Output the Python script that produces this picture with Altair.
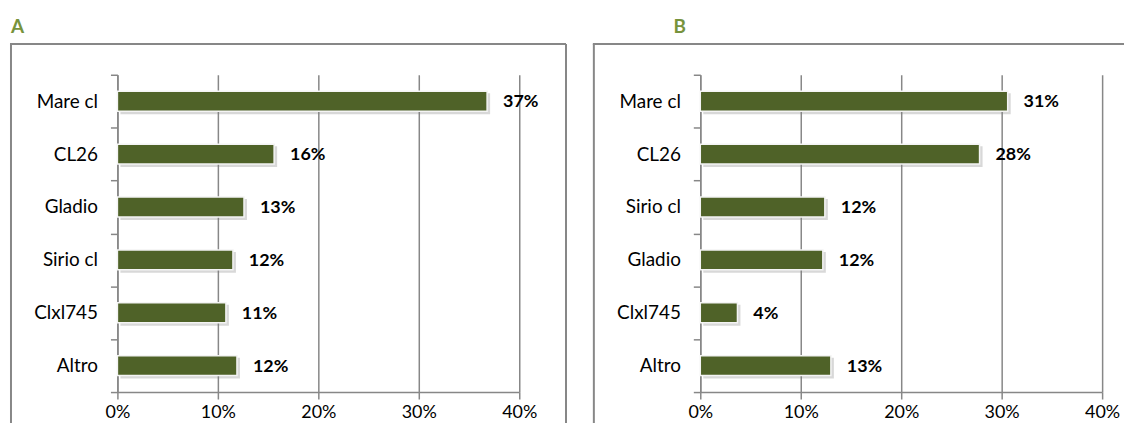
import altair as alt
import pandas as pd

# ---- data ----
cats_a = ["Mare cl", "CL26", "Gladio", "Sirio cl", "Clxl745", "Altro"]
vals_a = [0.368, 0.156, 0.126, 0.115, 0.108, 0.119]
labels_a = ["37%", "16%", "13%", "12%", "11%", "12%"]

cats_b = ["Mare cl", "CL26", "Sirio cl", "Gladio", "Clxl745", "Altro"]
vals_b = [0.306, 0.278, 0.124, 0.122, 0.037, 0.130]
labels_b = ["31%", "28%", "12%", "12%", "4%", "13%"]

x_ticks = [0, 0.1, 0.2, 0.3, 0.4]
panel_names = ["A", "B"]

GREEN = "#4F6228"
GRAY = "#878787"
TITLE_GREEN = "#77933C"
FONT = "Lato"
W, H = 404, 319


def panel(cats, vals, labels, name, name_x, top_right, right_border):
    df = pd.DataFrame({"cat": cats, "val": vals, "lab": labels})
    deco = pd.DataFrame({"name": [name]})
    y = alt.Y(
        "cat:N",
        sort=cats,
        scale=alt.Scale(paddingInner=0, paddingOuter=0),
        axis=alt.Axis(
            title=None,
            tickBand="extent",
            domainColor=GRAY,
            domainWidth=1.5,
            tickColor=GRAY,
            tickWidth=1.5,
            tickSize=7,
            labelFont=FONT,
            labelFontSize=19,
            labelColor="#000000",
            labelPadding=13,
        ),
    )
    x = alt.X(
        "val:Q",
        scale=alt.Scale(domain=[0, 0.4], nice=False),
        axis=alt.Axis(
            title=None,
            values=x_ticks,
            format=".0%",
            grid=True,
            gridColor=GRAY,
            gridWidth=1.5,
            domainColor=GRAY,
            domainWidth=1.5,
            tickColor=GRAY,
            tickWidth=1.5,
            tickSize=7,
            labelFlush=False,
            labelFont=FONT,
            labelFontSize=18,
            labelColor="#000000",
            labelPadding=5,
        ),
    )
    base = alt.Chart(df)
    shadow = base.mark_bar(size=21, color="#7f7f7f", opacity=0.3, xOffset=3, yOffset=2.5).encode(x=x, y=y)
    bars = base.mark_bar(size=20, color=GREEN, stroke="#f4f4f4", strokeWidth=1.5).encode(x=x, y=y)
    text = base.mark_text(
        align="left", baseline="middle", dx=16, dy=1, font=FONT, fontSize=18,
        fontWeight="bold", color="#000000",
    ).encode(x=x, y=y, text="lab:N")

    d = alt.Chart(deco)
    top_guard = d.mark_rule(strokeOpacity=0).encode(
        x=alt.value(0), y=alt.value(-65), y2=alt.value(-60)
    )
    box_left = d.mark_rule(color=GRAY, strokeWidth=2).encode(
        x=alt.value(-107), y=alt.value(-31), y2=alt.value(350)
    )
    box_top = d.mark_rule(color=GRAY, strokeWidth=2).encode(
        x=alt.value(-108), x2=alt.value(top_right), y=alt.value(-31)
    )
    label = d.mark_text(
        align="left", baseline="alphabetic", font=FONT, fontSize=19,
        fontWeight="bold", color=TITLE_GREEN,
    ).encode(x=alt.value(name_x), y=alt.value(-42), text="name:N")
    layers = [top_guard, box_left, box_top, label, shadow, bars, text]
    if right_border:
        layers.append(
            d.mark_rule(color=GRAY, strokeWidth=2).encode(
                x=alt.value(top_right), y=alt.value(-31), y2=alt.value(350)
            )
        )
    return alt.layer(*layers).properties(width=W, height=H)


pa = panel(cats_a, vals_a, labels_a, panel_names[0], -107, 451, True)
pb = panel(cats_b, vals_b, labels_b, panel_names[1], -27, 426, False)

chart = (
    alt.hconcat(pa, pb, spacing=23)
    .properties(padding=0, background="white")
    .configure_view(stroke="transparent")
)

chart.save("out.html", embed_options={"renderer": "svg", "actions": False})
